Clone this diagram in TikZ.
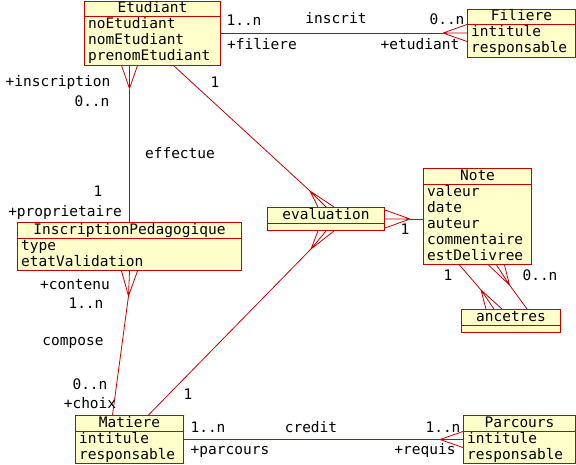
\documentclass[tikz,border=0pt]{standalone}
\usepackage{fontspec}
\setmainfont{DejaVu Sans Mono}
\usetikzlibrary{positioning,calc}
\definecolor{rose}{HTML}{C80000}
\definecolor{paper}{HTML}{FFFFCC}

% crow's foot: apex, point on the box edge, half spread
\newcommand{\crowfoot}[3]{%
  \draw[assoc] (#1) -- ($(#2)+(#3)$) (#1) -- (#2) (#1) -- ($(#2)-(#3)$);}

\begin{document}
\begin{tikzpicture}[x=1pt,y=-1pt,
    font=\fontsize{14.5}{16}\selectfont,
    cls/.style={draw=rose,fill=paper,line width=1pt,anchor=north west,inner sep=0pt},
    ttl/.style={inner sep=0pt,anchor=north,yshift=-1pt},
    attr/.style={inner sep=0pt,anchor=north west,align=left,yshift=-1pt},
    sep/.style={draw=rose,line width=1pt},
    assoc/.style={draw=rose,line width=0.8pt},
    lbl/.style={inner sep=0pt}
  ]
  \useasboundingbox (0,0) rectangle (576,464);

  % classes
  \node[cls,minimum width=136pt,minimum height=64pt] (etu) at (84,0.5) {};
  \node[ttl] (etuT) at (etu.north) {\strut Etudiant};
  \draw[sep] ($(etu.north west)+(0,16)$) -- ($(etu.north east)+(0,16)$);
  \node[attr] (etuA) at ($(etu.north west)+(4,16)$) {\strut noEtudiant\\\strut nomEtudiant\\\strut prenomEtudiant};

  \node[cls,minimum width=108pt,minimum height=48pt] (fil) at (467,8.5) {};
  \node[ttl] (filT) at (fil.north) {\strut Filiere};
  \draw[sep] ($(fil.north west)+(0,16)$) -- ($(fil.north east)+(0,16)$);
  \node[attr] (filA) at ($(fil.north west)+(4,16)$) {\strut intitule\\\strut responsable};

  \node[cls,minimum width=224pt,minimum height=48pt] (ip) at (17,222) {};
  \node[ttl] (ipT) at (ip.north) {\strut InscriptionPedagogique};
  \draw[sep] ($(ip.north west)+(0,16)$) -- ($(ip.north east)+(0,16)$);
  \node[attr] (ipA) at ($(ip.north west)+(4,16)$) {\strut type\\\strut etatValidation};

  \node[cls,minimum width=108pt,minimum height=96pt] (note) at (423,168) {};
  \node[ttl] (noteT) at (note.north) {\strut Note};
  \draw[sep] ($(note.north west)+(0,16)$) -- ($(note.north east)+(0,16)$);
  \node[attr] (noteA) at ($(note.north west)+(4,16)$) {\strut valeur\\\strut date\\\strut auteur\\\strut commentaire\\\strut estDelivree};

  \node[cls,minimum width=117pt,minimum height=23pt] (eval) at (267,207) {};
  \node[ttl] (evalT) at (eval.north) {\strut evaluation};
  \draw[sep] ($(eval.north west)+(0,16)$) -- ($(eval.north east)+(0,16)$);

  \node[cls,minimum width=99pt,minimum height=23pt] (anc) at (461,309) {};
  \node[ttl] (ancT) at (anc.north) {\strut ancetres};
  \draw[sep] ($(anc.north west)+(0,16)$) -- ($(anc.north east)+(0,16)$);

  \node[cls,minimum width=108pt,minimum height=48pt] (mat) at (75,415) {};
  \node[ttl] (matT) at (mat.north) {\strut Matiere};
  \draw[sep] ($(mat.north west)+(0,16)$) -- ($(mat.north east)+(0,16)$);
  \node[attr] (matA) at ($(mat.north west)+(4,16)$) {\strut intitule\\\strut responsable};

  \node[cls,minimum width=112pt,minimum height=48pt] (par) at (463,415) {};
  \node[ttl] (parT) at (par.north) {\strut Parcours};
  \draw[sep] ($(par.north west)+(0,16)$) -- ($(par.north east)+(0,16)$);
  \node[attr] (parA) at ($(par.north west)+(4,16)$) {\strut intitule\\\strut responsable};

  % inscrit
  \coordinate (cfFil) at ($(fil.west)+(-24,0)$);
  \draw[assoc] (etu.east) -- (cfFil);
  \crowfoot{cfFil}{fil.west}{0,8.5}
  \node[lbl] (inscritA) at (244,20) {1..n};
  \node[lbl] (inscritB) at (262,44) {+filiere};
  \node[lbl] (inscritN) at (336,18) {inscrit};
  \node[lbl] (inscritC) at (447,19) {0..n};
  \node[lbl] (inscritD) at (420,44) {+etudiant};

  % effectue
  \coordinate (insTop) at (ip.north |- etu.south);
  \coordinate (cfIns) at ($(insTop)+(0,23)$);
  \draw[assoc] (ip.north) -- (cfIns);
  \crowfoot{cfIns}{insTop}{8,0}
  \node[lbl] (effA) at (58,82) {+inscription};
  \node[lbl] (effB) at (92,101) {0..n};
  \node[lbl] (effN) at (180,153) {effectue};
  \node[lbl] (effC) at (98,191) {1};
  \node[lbl] (effD) at (65,212) {+proprietaire};

  % compose
  \coordinate (cfCont) at ($(ip.south)+(-1,25)$);
  \draw[assoc] (cfCont) -- ($(mat.north)+(-17,0)$);
  \crowfoot{cfCont}{ip.south}{8,0}
  \node[lbl] (compA) at (75,285) {+contenu};
  \node[lbl] (compB) at (86,303) {1..n};
  \node[lbl] (compN) at (73,343) {compose};
  \node[lbl] (compC) at (90,384) {0..n};
  \node[lbl] (compD) at (90,403) {+choix};

  % evaluation
  \coordinate (cfEtu) at ($(eval.north)+(-16,-16)$);
  \draw[assoc] ($(etu.south)+(21,0)$) -- (cfEtu);
  \crowfoot{cfEtu}{eval.north}{8,0}
  \node[lbl] (evEtu) at (215,82) {1};

  \coordinate (cfMat) at ($(eval.south)+(-15,18)$);
  \draw[assoc] ($(mat.north)+(19,0)$) -- (cfMat);
  \crowfoot{cfMat}{eval.south}{8,0}
  \node[lbl] (evMat) at (188,394) {1};

  \coordinate (cfNote) at ($(eval.east)+(25,0)$);
  \draw[assoc] (cfNote) -- (cfNote -| note.west);
  \crowfoot{cfNote}{eval.east}{0,9}
  \node[lbl] (evNote) at (405,229) {1};

  % ancetres
  \coordinate (ancA) at ($(anc.north)+(-17,0)$);
  \coordinate (cfAnc) at ($(anc.north)+(-30,-19)$);
  \draw[assoc] ($(note.south)+(-18,0)$) -- (cfAnc);
  \crowfoot{cfAnc}{ancA}{8,0}
  \node[lbl] (ancL) at (448,275) {1};

  \coordinate (noteB) at ($(note.south)+(19,0)$);
  \coordinate (cfDesc) at ($(note.south)+(32,20)$);
  \draw[assoc] ($(anc.north)+(16,0)$) -- (cfDesc);
  \crowfoot{cfDesc}{noteB}{8,0}
  \node[lbl] (ancR) at (540,275) {0..n};

  % credit
  \coordinate (cfPar) at ($(par.west)+(-23,0)$);
  \draw[assoc] (mat.east) -- (cfPar);
  \crowfoot{cfPar}{par.west}{0,8}
  \node[lbl] (credA) at (208,427) {1..n};
  \node[lbl] (credB) at (230,452) {+parcours};
  \node[lbl] (credN) at (311,427) {credit};
  \node[lbl] (credC) at (443,427) {1..n};
  \node[lbl] (credD) at (425,451) {+requis};
\end{tikzpicture}
\end{document}
